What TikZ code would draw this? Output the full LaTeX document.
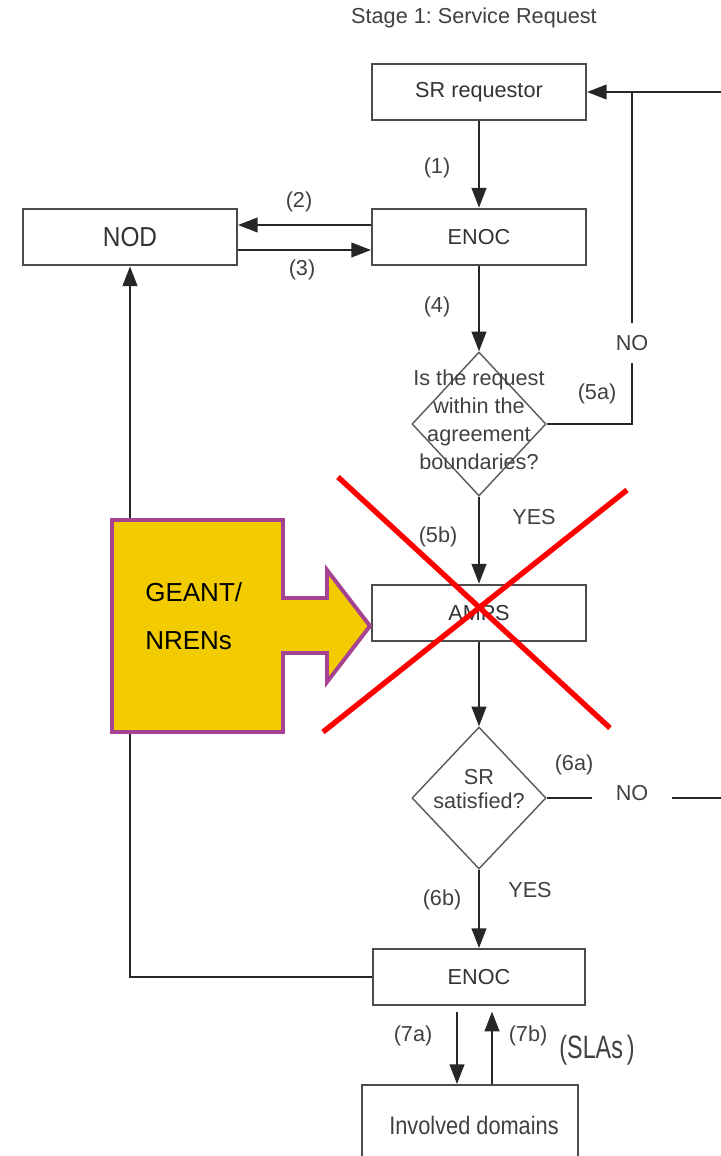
\documentclass[tikz,border=0pt]{standalone}
\usepackage{fontspec}
\setmainfont{Liberation Sans}
\usetikzlibrary{arrows.meta,shapes.geometric}
\definecolor{geantfill}{RGB}{242,204,0}
\definecolor{geantedge}{RGB}{166,66,146}
\frenchspacing

\begin{document}
\begin{tikzpicture}[
  x=0.025cm, y=-0.025cm,
  font=\fontsize{15.4}{18}\selectfont,
  box/.style={draw=black!70, line width=1.4pt, fill=white, rectangle,
              minimum width=5.35cm, minimum height=1.42cm, inner sep=0pt,
              text=black!80},
  dec/.style={draw=black!65, line width=1pt, diamond, minimum width=3.35cm,
              minimum height=3.6cm, inner sep=0pt},
  dtxt/.style={align=center, text=black!75, inner sep=0pt},
  arr/.style={-{Triangle[length=14pt,width=10.5pt]}, line width=1.2pt, black!85},
  ln/.style={line width=1.2pt, black!85},
  lbl/.style={text=black!75, inner sep=1pt},
  cross/.style={red, line width=3.8pt},
]

  \clip (0,0) rectangle (721,1156);

  \def\xM{479}   % main column
  \def\xN{130}   % NOD column

  % --- Title ---
  \node[lbl] (title) at (474,18) {Stage 1: Service Request};

  % --- Boxes ---
  \node[box] (sr)    at (\xM,92)  {SR requestor};
  \node[box] (enoc)  at (\xM,237) {ENOC};
  \node[box, font=\fontsize{19.5}{22}\selectfont] (nod) at (\xN,237)
    {\scalebox{0.89}[1]{NOD}};
  \node[box] (amps)  at (\xM,613) {AMPS};
  \node[box, minimum width=5.28cm, minimum height=1.4cm] (enocb) at (\xM,977) {ENOC};
  \node[box, minimum width=5.38cm, minimum height=3cm] (inv) at (470,1145) {};
  \node[dtxt, font=\fontsize{18}{20}\selectfont] (invtxt) at (474,1125)
    {\scalebox{0.86}[1]{Involved domains}};

  % --- Decisions ---
  \node[dec] (dA) at (\xM,424) {};
  \node[dtxt, font=\fontsize{15.4}{19.8}\selectfont] (dAtxt) at (\xM,420)
    {Is the request\\within the\\agreement\\boundaries?};
  \node[dec, minimum width=3.35cm, minimum height=3.55cm] (dB) at (\xM,798) {};
  \node[dtxt, font=\fontsize{15.4}{17.7}\selectfont] (dBtxt) at (\xM,789)
    {SR\\satisfied?};

  % --- NO branches ---
  \node[lbl, inner ysep=8.5pt] (noA) at (632,343) {NO};
  \node[lbl, inner xsep=16.5pt] (noB) at (632,793) {NO};
  \coordinate (join)    at (632,92);
  \coordinate (backtop) at (721,92);
  \coordinate (backbot) at (721,798);

  % --- Connectors ---
  \draw[arr] (sr) -- (enoc);
  \draw[arr] ([yshift=0.3cm]enoc.west) -- ([yshift=0.3cm]nod.east);
  \draw[arr] ([yshift=-0.325cm]nod.east) -- ([yshift=-0.325cm]enoc.west);
  \draw[arr] (enoc) -- (dA);
  \draw[arr] (dA) -- (amps);
  \draw[arr] (amps) -- (dB);
  \draw[arr] (dB) -- (enocb);
  \draw[ln] (dA.east) -| (noA.south);
  \draw[ln] (noA.north) -- (join);
  \draw[arr] (backtop) -- (sr.east);
  \draw[ln] (dB.east) -- (dB.east -| noB.west);
  \draw[ln] (noB.east |- dB.east) -- (backbot);
  \draw[arr] (enocb.west) -| (nod.south);
  \draw[arr, shorten <=4pt] ([xshift=-0.55cm]enocb.south)
    -- ([xshift=-0.55cm]enocb.south |- inv.north);
  \draw[arr, shorten >=4pt] ([xshift=0.325cm]enocb.south |- inv.north)
    -- ([xshift=0.325cm]enocb.south);

  % --- Step labels ---
  \node[lbl] (l1)  at (437,168)  {(1)};
  \node[lbl] (l2)  at (299,202)  {(2)};
  \node[lbl] (l3)  at (302,270)  {(3)};
  \node[lbl] (l4)  at (437,307)  {(4)};
  \node[lbl] (l5a) at (597,394)  {(5a)};
  \node[lbl] (y5)  at (534,517)  {YES};
  \node[lbl] (l5b) at (438,537)  {(5b)};
  \node[lbl] (l6a) at (574,765)  {(6a)};
  \node[lbl] (y6)  at (530,890)  {YES};
  \node[lbl] (l6b) at (442,900)  {(6b)};
  \node[lbl] (l7a) at (413,1036) {(7a)};
  \node[lbl] (l7b) at (528,1036) {(7b)};
  \node[lbl, font=\fontsize{23}{25}\selectfont] (slas) at (597,1050)
    {\scalebox{0.72}[1]{(SLAs\,)}};

  % --- GEANT/NRENs block arrow ---
  \draw[geantedge, fill=geantfill, line width=2.8pt, line join=miter]
    (112,520) -- (283,520) -- (283,598) -- (327,598) -- (327,570)
    -- (370,626) -- (327,682) -- (327,653) -- (283,653) -- (283,732)
    -- (112,732) -- cycle;
  \node[align=left, anchor=west, inner sep=0pt,
        font=\fontsize{18.5}{34}\selectfont] (geant) at (145,616)
    {GEANT/\\NRENs};

  % --- Cross-out ---
  \draw[cross] (338,477) -- (610,728);
  \draw[cross] (627,490) -- (323,732);

\end{tikzpicture}
\end{document}
